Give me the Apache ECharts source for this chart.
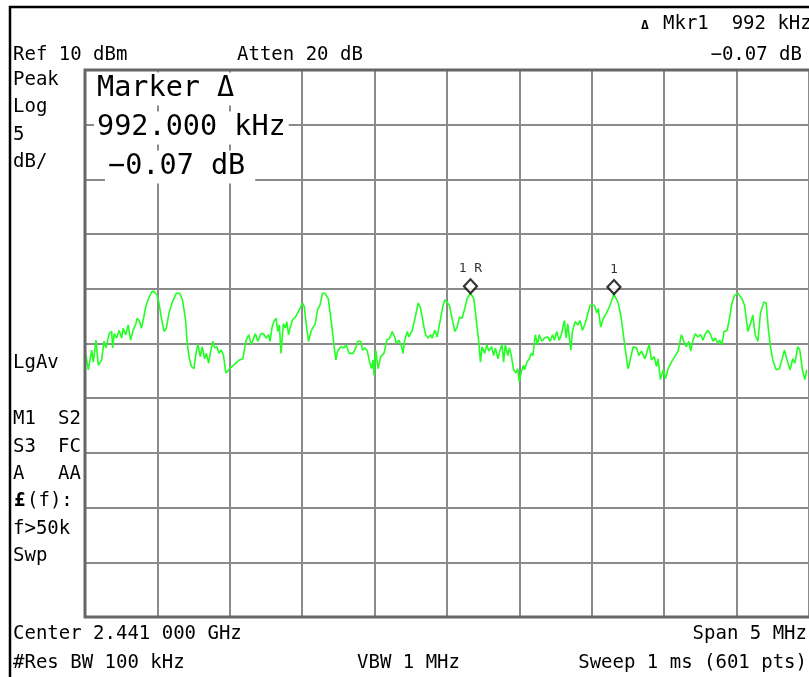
<!DOCTYPE html>
<html>
<head>
<meta charset="utf-8">
<script src="https://cdn.jsdelivr.net/npm/echarts@6/dist/echarts.min.js"></script>
<style>
html, body { margin: 0; padding: 0; background: #fff; }
#chart { width: 809px; height: 677px; }
</style>
</head>
<body>
<div id="chart"></div>
<script>
// sweep settings
var startMHz = 2438.5;
var spanMHz = 5;
var refLevelDbm = 10;
var dbPerDiv = 5;
var divisions = 10;

// trace: offset from start frequency (kHz) and level (dBm)
var freqOffsetKHz = [
    0, 23, 46, 57, 76, 92, 115, 131, 145, 167,
    184, 191, 202, 218, 236, 253, 264, 282, 298, 315,
    332, 351, 360, 374, 390, 406, 420, 436, 459, 475,
    498, 511, 528, 546, 562, 580, 604, 631, 654, 673,
    695, 704, 718, 735, 752, 769, 780, 796, 810, 826,
    838, 854, 865, 883, 895, 911, 925, 941, 957, 969,
    975, 998, 1026, 1048, 1067, 1090, 1113, 1131, 1148, 1177,
    1193, 1216, 1232, 1251, 1269, 1278, 1292, 1308, 1320, 1331,
    1342, 1354, 1361, 1370, 1384, 1393, 1406, 1418, 1434, 1453,
    1468, 1485, 1503, 1514, 1530, 1544, 1561, 1576, 1590, 1606,
    1623, 1640, 1657, 1680, 1693, 1709, 1721, 1733, 1744, 1767,
    1790, 1802, 1824, 1852, 1870, 1886, 1905, 1916, 1934, 1950,
    1962, 1978, 1989, 1996, 2008, 2024, 2042, 2065, 2084, 2104,
    2122, 2141, 2150, 2168, 2187, 2196, 2208, 2226, 2237, 2260,
    2279, 2301, 2318, 2341, 2352, 2370, 2387, 2398, 2416, 2432,
    2456, 2471, 2485, 2494, 2517, 2535, 2554, 2570, 2586, 2604,
    2623, 2639, 2662, 2685, 2701, 2719, 2731, 2742, 2760, 2776,
    2788, 2807, 2822, 2834, 2852, 2864, 2880, 2891, 2903, 2919,
    2931, 2944, 2960, 2976, 2988, 2999, 3013, 3029, 3036, 3052,
    3068, 3082, 3093, 3110, 3125, 3137, 3155, 3174, 3196, 3213,
    3229, 3242, 3258, 3275, 3289, 3311, 3323, 3334, 3355, 3366,
    3385, 3403, 3419, 3435, 3454, 3470, 3488, 3518, 3534, 3545,
    3561, 3580, 3602, 3626, 3653, 3683, 3702, 3724, 3747, 3752,
    3770, 3786, 3809, 3825, 3843, 3867, 3896, 3912, 3931, 3947,
    3958, 3974, 3993, 4009, 4027, 4050, 4073, 4096, 4119, 4135,
    4153, 4170, 4183, 4199, 4215, 4233, 4252, 4268, 4284, 4302,
    4321, 4337, 4353, 4371, 4383, 4399, 4413, 4435, 4452, 4468,
    4486, 4509, 4537, 4555, 4578, 4596, 4612, 4628, 4647, 4665,
    4688, 4704, 4720, 4734, 4750, 4773, 4796, 4819, 4830, 4846,
    4869, 4888, 4903, 4922, 4937, 4954, 4972, 4984
];
var levelDbm = [
    -15.6, -17.4, -15.6, -16.7, -14.7, -17.0, -16.5, -14.8, -15.4, -14.1,
    -13.9, -15.4, -14.1, -14.5, -13.8, -14.5, -13.6, -14.2, -13.3, -14.7,
    -13.8, -13.2, -12.7, -12.9, -13.6, -12.6, -11.6, -11.0, -10.3, -10.2,
    -10.6, -11.3, -12.7, -13.9, -13.6, -12.2, -11.2, -10.4, -10.4, -11.0,
    -12.9, -14.7, -16.2, -17.1, -17.3, -15.7, -15.1, -16.2, -15.3, -16.4,
    -15.9, -16.8, -15.9, -14.8, -15.4, -15.3, -15.9, -15.6, -16.1, -17.4,
    -17.7, -17.3, -17.0, -16.7, -16.5, -16.4, -14.7, -14.2, -15.1, -14.1,
    -14.8, -14.1, -14.1, -14.5, -14.2, -14.8, -13.5, -12.9, -12.7, -13.9,
    -13.3, -15.9, -14.7, -13.2, -13.6, -13.0, -14.2, -13.5, -12.8, -12.6,
    -12.2, -11.8, -11.3, -11.6, -13.5, -14.8, -13.9, -13.5, -13.2, -11.9,
    -11.5, -10.4, -10.4, -10.9, -12.2, -13.9, -15.3, -16.5, -15.7, -15.3,
    -15.4, -15.1, -15.9, -15.9, -15.4, -14.8, -14.8, -15.6, -15.4, -15.7,
    -16.5, -17.3, -16.5, -17.9, -15.6, -17.3, -16.2, -15.9, -14.7, -14.5,
    -13.9, -14.5, -15.0, -14.7, -15.3, -15.9, -14.7, -13.9, -14.4, -13.8,
    -12.7, -11.3, -11.8, -13.5, -14.2, -14.5, -14.2, -14.5, -13.8, -14.4,
    -12.7, -11.6, -11.0, -11.0, -11.5, -12.7, -13.9, -13.5, -12.6, -12.7,
    -11.8, -10.9, -10.41, -10.9, -12.7, -14.8, -16.7, -15.3, -15.9, -15.1,
    -15.7, -15.3, -16.1, -15.4, -16.4, -15.7, -15.1, -16.7, -15.1, -16.1,
    -15.4, -16.1, -17.4, -17.7, -17.3, -18.5, -17.6, -17.0, -17.4, -16.7,
    -16.4, -15.9, -16.1, -14.2, -15.1, -14.2, -14.8, -14.5, -14.4, -14.8,
    -14.2, -14.7, -13.9, -14.7, -14.2, -12.9, -14.5, -13.2, -15.6, -13.9,
    -13.0, -13.3, -12.9, -13.8, -13.2, -12.4, -11.5, -11.5, -12.2, -11.8,
    -13.5, -12.7, -12.2, -11.5, -10.48, -11.3, -12.6, -14.8, -17.1, -17.3,
    -16.2, -15.3, -15.4, -16.1, -15.7, -16.4, -15.1, -16.5, -16.2, -17.1,
    -16.4, -18.3, -17.4, -18.2, -17.3, -16.7, -16.2, -15.7, -14.2, -14.8,
    -15.3, -14.8, -15.7, -14.7, -14.1, -14.4, -14.2, -14.7, -14.1, -13.8,
    -14.2, -14.8, -14.5, -15.0, -14.7, -15.1, -13.9, -13.8, -12.6, -11.3,
    -10.6, -10.4, -10.9, -11.5, -13.9, -13.2, -12.4, -14.2, -14.8, -12.2,
    -11.2, -11.3, -13.8, -15.3, -16.5, -17.4, -17.3, -16.2, -15.6, -16.4,
    -17.4, -16.4, -16.8, -15.3, -15.6, -17.4, -18.3, -17.4
];

// delta marker pair
var markerLabels = ['1 R', '1'];
var markerFreqKHz = [2662, 3653];
var markerDbm = [-10.41, -10.48];

function toPoint(kHz, dbm) {
    return [startMHz + kHz / 1000, dbm];
}

var trace = freqOffsetKHz.map(function (k, i) { return toPoint(k, levelDbm[i]); });
var markers = markerFreqKHz.map(function (k, i) {
    return { name: markerLabels[i], value: toPoint(k, markerDbm[i]) };
});

var mono = '"DejaVu Sans Mono", "Liberation Mono", monospace';

function label(text, x, y, size, align, extra) {
    var style = {
        text: text,
        font: (size || 19) + 'px ' + mono,
        fill: '#000',
        textAlign: align || 'left',
        align: align || 'left',
        textVerticalAlign: 'middle',
        verticalAlign: 'middle'
    };
    if (extra) {
        for (var k in extra) style[k] = extra[k];
    }
    return { type: 'text', x: x, y: y, style: style };
}

var boxBg = { backgroundColor: '#fff', padding: [2, 3] };

var texts = [
    label('Ref 10 dBm', 13, 55),
    label('Atten 20 dB', 237, 55),
    label('\u0394', 641, 26, 13, 'left', { font: 'bold 13px ' + mono }),
    label('Mkr1  992 kHz', 663, 24),
    label('\u22120.07 dB', 802, 55, 19, 'right'),
    label('Peak', 13, 80),
    label('Log', 13, 107),
    label('5', 13, 135),
    label('dB/', 13, 162),
    label('LgAv', 13, 363),
    label('M1', 13, 419),
    label('S2', 81, 419, 19, 'right'),
    label('S3', 13, 447),
    label('FC', 81, 447, 19, 'right'),
    label('A', 13, 474),
    label('AA', 81, 474, 19, 'right'),
    label('\u00a3', 14, 501, 19, 'left', { font: 'bold 19px ' + mono }),
    label('(f):', 27, 501),
    label('f>50k', 13, 529),
    label('Swp', 13, 556),
    label('Center 2.441 000 GHz', 13, 634),
    label('Span 5 MHz', 807, 634, 19, 'right'),
    label('#Res BW 100 kHz', 13, 663),
    label('VBW 1 MHz', 357, 663),
    label('Sweep 1 ms (601 pts)', 807, 663, 19, 'right'),
    label('Marker \u0394', 94, 89, 28.5, 'left', boxBg),
    label('992.000 kHz', 94, 128, 28.5, 'left', boxBg),
    label('\u22120.07 dB', 105, 167, 28.5, 'left', { backgroundColor: '#fff', padding: [2, 10, 2, 3] })
];

var gridBox = { left: 85, top: 70, width: 726, height: 547 };

var chart = echarts.init(document.getElementById('chart'));
chart.setOption({
    animation: false,
    backgroundColor: '#fff',
    grid: gridBox,
    xAxis: {
        type: 'value',
        min: startMHz,
        max: startMHz + spanMHz,
        interval: spanMHz / divisions,
        axisLine: { show: false },
        axisTick: { show: false },
        axisLabel: { show: false },
        splitLine: { show: true, lineStyle: { color: '#8a8a8a', width: 2 } }
    },
    yAxis: {
        type: 'value',
        min: refLevelDbm - dbPerDiv * divisions,
        max: refLevelDbm,
        interval: dbPerDiv,
        axisLine: { show: false },
        axisTick: { show: false },
        axisLabel: { show: false },
        splitLine: { show: true, lineStyle: { color: '#8a8a8a', width: 2 } }
    },
    series: [
        {
            name: 'trace',
            type: 'line',
            data: trace,
            showSymbol: false,
            lineStyle: { color: '#22ff22', width: 1.6 },
            z: 2
        },
        {
            name: 'markers',
            type: 'scatter',
            data: markers,
            symbol: 'diamond',
            symbolSize: [13, 14],
            symbolOffset: [0, -7],
            itemStyle: { color: '#fff', borderColor: '#000', borderWidth: 2.2 },
            label: {
                show: true,
                position: 'top',
                distance: 3,
                formatter: '{b}',
                color: '#000',
                fontSize: 13,
                fontFamily: mono
            },
            z: 4
        }
    ],
    graphic: {
        elements: [
            {
                type: 'polyline',
                z: 100,
                shape: { points: [[10, 677], [10, 7], [809, 7]] },
                style: { stroke: '#000', lineWidth: 2.5, fill: null }
            },
            {
                type: 'rect',
                z: 101,
                shape: { x: gridBox.left, y: gridBox.top, width: gridBox.width, height: gridBox.height },
                style: { stroke: '#666', lineWidth: 3, fill: null }
            }
        ].concat(texts.map(function (t) { t.z = 102; return t; }))
    }
});

window.addEventListener('resize', function () {
    chart.resize();
});
</script>
</body>
</html>
